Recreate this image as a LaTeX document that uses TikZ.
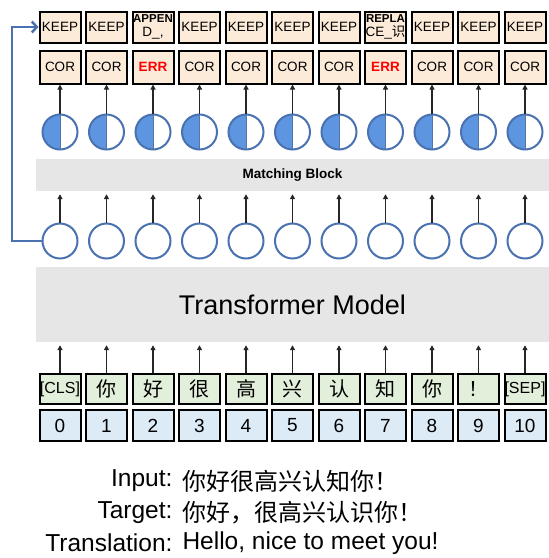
\documentclass[tikz,border=0pt]{standalone}
\usepackage{fontspec}
\setmainfont{Liberation Sans}
\newfontfamily\cjk{Noto Sans CJK SC}
\usetikzlibrary{arrows.meta}
\definecolor{peach}{HTML}{FCEBD9}
\definecolor{tokgreen}{HTML}{E2EFDA}
\definecolor{idxblue}{HTML}{DDEBF7}
\definecolor{blockgray}{HTML}{E6E6E6}
\definecolor{ringblue}{HTML}{4A72B0}
\definecolor{halfblue}{HTML}{5E95E0}
\definecolor{errred}{HTML}{FF0000}
\newcommand{\opsmall}{\fontsize{11.5}{12.5}\selectfont\bfseries}
\newcommand{\errtxt}{\color{errred}\fontsize{13.5}{14}\selectfont\bfseries}
\newcommand{\tokcjk}{\cjk\fontsize{20}{22}\selectfont}
\begin{document}
\begin{tikzpicture}[x=1pt,y=-1pt,
  box/.style={draw=black, line width=2pt, minimum width=41pt, inner sep=0pt, align=center,
    font=\fontsize{13.5}{14}\selectfont},
  opbox/.style={box, fill=peach, minimum height=31pt},
  corbox/.style={box, fill=peach, minimum height=33pt},
  tokbox/.style={box, fill=tokgreen, minimum height=30pt, font=\fontsize{16}{18}\selectfont},
  idxbox/.style={box, fill=idxblue, minimum height=31pt, font=\fontsize{19}{21}\selectfont},
  ring/.style={circle, draw=ringblue, line width=2pt, fill=white, minimum size=35pt, inner sep=0pt},
  halfring/.style={ring, path picture={
      \fill[halfblue] (path picture bounding box.north west) rectangle (path picture bounding box.south);
      \draw[ringblue!80!gray, line width=1pt] (path picture bounding box.north) -- (path picture bounding box.south);}},
  up/.style={-{Triangle[width=5pt,length=5pt]}, line width=1.2pt, black!85},
  gblock/.style={fill=blockgray, draw=none, inner sep=0pt},
  fb/.style={draw=ringblue, line width=2.5pt, -{Straight Barb[length=5pt,width=11pt]}},
  lab/.style={anchor=east, font=\fontsize{24.5}{26}\selectfont},
  val/.style={anchor=west, font=\fontsize{24.5}{26}\selectfont},
]
\useasboundingbox (0,0) rectangle (549,558);

% gray blocks
\node[gblock, minimum width=513pt, minimum height=32pt] (mb) at (292.5,175)
  {\fontsize{13.5}{14}\selectfont\bfseries Matching Block};
\node[gblock, minimum width=513pt, minimum height=75pt] (tm) at (292.5,304.5)
  {\fontsize{27}{30}\selectfont Transformer Model};

% columns
\foreach \i/\op/\st/\tok in {%
  0/KEEP/COR/{[CLS]},
  1/KEEP/COR/{\tokcjk 你},
  2/{\opsmall APPEN\\D\_,}/{\errtxt ERR}/{\tokcjk 好},
  3/KEEP/COR/{\tokcjk 很},
  4/KEEP/COR/{\tokcjk 高},
  5/KEEP/COR/{\tokcjk 兴},
  6/KEEP/COR/{\tokcjk 认},
  7/{\opsmall REPLA\\CE\_{\cjk 识}}/{\errtxt ERR}/{\tokcjk 知},
  8/KEEP/COR/{\tokcjk 你},
  9/KEEP/COR/{\tokcjk ！},
  10/KEEP/COR/{[SEP]}} {
  \pgfmathsetmacro{\xx}{60+46.5*\i}
  \node[opbox] (keep\i) at (\xx,27) {\op};
  \node[corbox] (cor\i) at (\xx,67) {\st};
  \node[halfring] (half\i) at (\xx,132) {};
  \node[ring] (circ\i) at (\xx,241) {};
  \node[tokbox] (tok\i) at (\xx,389) {\tok};
  \node[idxbox] (idx\i) at (\xx,425.5) {\i};
  \draw[up] (half\i.north) -- (cor\i.south);
  \draw[up, shorten >=3pt] (circ\i.north) -- (circ\i.north |- mb.south);
  \draw[up, shorten >=3pt] (tok\i.north) -- (tok\i.north |- tm.south);
}

% feedback connector
\coordinate (fbx) at (12,0);
\draw[fb] (circ0.west) -- (circ0.west -| fbx) |- (keep0.west);

% bottom text
\node[lab] (l1) at (176,481) {Input:};
\node[val] (v1) at (179,481) {\cjk\fontsize{24}{26}\selectfont 你好很高兴认知你！};
\node[lab] (l2) at (176,513) {Target:};
\node[val] (v2) at (179,513) {\cjk\fontsize{24}{26}\selectfont 你好，很高兴认识你！};
\node[lab] (l3) at (176,543) {Translation:};
\node[val] (v3) at (179,543) {Hello, nice to meet you!};
\end{tikzpicture}
\end{document}
